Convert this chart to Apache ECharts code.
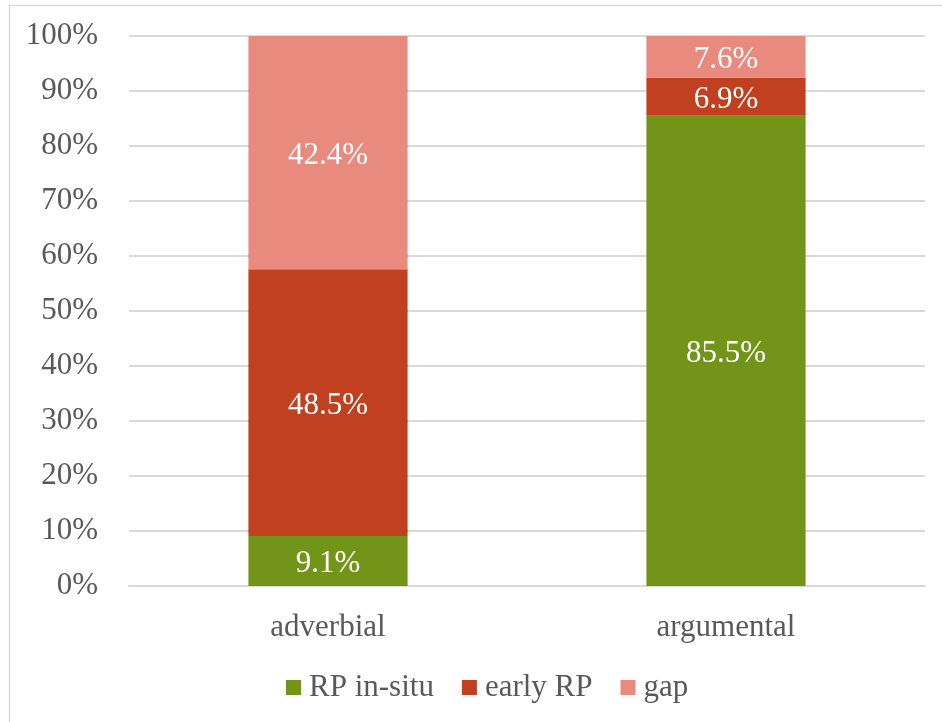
<!DOCTYPE html>
<html>
<head>
<meta charset="utf-8">
<script src="https://cdn.jsdelivr.net/npm/echarts@6/dist/echarts.min.js"></script>
<style>
  html, body { margin: 0; padding: 0; background: #fff; }
  #chart { width: 942px; height: 722px; }
</style>
</head>
<body>
<div id="chart"></div>
<script>
// Clause types on the x axis
const categories = ['adverbial', 'argumental'];

// Share (%) of each strategy per clause type
const rpInSitu = [9.1, 85.5];
const earlyRP = [48.5, 6.9];
const gap = [42.4, 7.6];

const seriesNames = ['RP in-situ', 'early RP', 'gap'];
const seriesColors = ['#729419', '#C04020', '#E98A7F'];
const seriesValues = [rpInSitu, earlyRP, gap];

const FONT = '"Liberation Serif", "Times New Roman", serif';
const FS = 31;

const chart = echarts.init(document.getElementById('chart'), null, { renderer: 'canvas' });

const series = seriesNames.map((name, i) => ({
  name: name,
  type: 'bar',
  stack: 'total',
  barWidth: '40%',
  data: seriesValues[i],
  itemStyle: { color: seriesColors[i] },
  label: {
    show: true,
    position: 'inside',
    offset: [0, 3],
    color: '#ffffff',
    fontFamily: FONT,
    fontSize: FS,
    formatter: p => p.value.toFixed(1) + '%'
  }
}));

chart.setOption({
  animation: false,
  backgroundColor: '#ffffff',
  graphic: [{
    type: 'rect',
    shape: { x: 9.5, y: 5.5, width: 960, height: 760 },
    style: { fill: 'none', stroke: '#d9d9d9', lineWidth: 1.5 },
    silent: true,
    z: -1
  }],
  grid: { left: 129, right: 17, top: 36, bottom: 136 },
  legend: {
    data: seriesNames,
    left: 281,
    top: 667,
    icon: 'rect',
    itemWidth: 15,
    itemHeight: 15,
    itemGap: 28,
    textStyle: {
      fontFamily: FONT,
      fontSize: FS,
      color: '#595959',
      padding: [0, 0, 0, 3]
    }
  },
  xAxis: {
    type: 'category',
    data: categories,
    axisLine: { show: true, lineStyle: { color: '#d9d9d9', width: 2 } },
    axisTick: { show: false },
    axisLabel: {
      fontFamily: FONT,
      fontSize: FS,
      color: '#595959',
      margin: 26
    }
  },
  yAxis: {
    type: 'value',
    min: 0,
    max: 100,
    interval: 10,
    axisLine: { show: false },
    axisTick: { show: false },
    splitLine: { lineStyle: { color: '#d9d9d9', width: 2 } },
    axisLabel: {
      fontFamily: FONT,
      fontSize: FS,
      color: '#595959',
      margin: 31,
      verticalAlign: 'middle',
      lineHeight: 36,
      padding: [4, 0, 0, 0],
      formatter: v => v + '%'
    }
  },
  series: series
});
</script>
</body>
</html>
